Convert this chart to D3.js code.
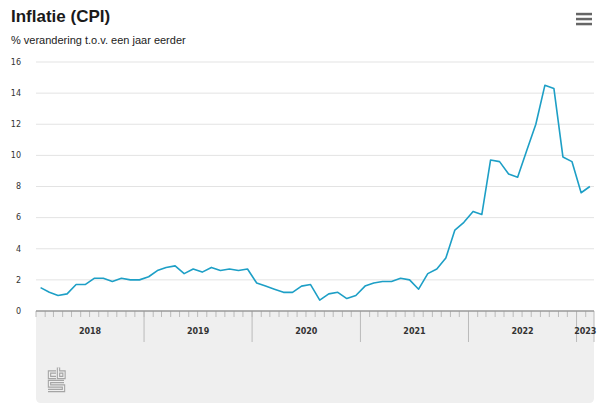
<!DOCTYPE html>
<html><head><meta charset="utf-8">
<script src="https://cdn.jsdelivr.net/npm/d3@7"></script>
<style>body{margin:0;background:#fff}svg{display:block}</style>
</head><body>
<div id="chart"></div>
<script>
const title = "Inflatie (CPI)";
const subtitle = "% verandering t.o.v. een jaar eerder";
const startMonth = "2018-01";
const cpi = [
  1.5, 1.2, 1.0, 1.1, 1.7, 1.7, 2.1, 2.1, 1.9, 2.1, 2.0, 2.0,
  2.2, 2.6, 2.8, 2.9, 2.4, 2.7, 2.5, 2.8, 2.6, 2.7, 2.6, 2.7,
  1.8, 1.6, 1.4, 1.2, 1.2, 1.6, 1.7, 0.7, 1.1, 1.2, 0.8, 1.0,
  1.6, 1.8, 1.9, 1.9, 2.1, 2.0, 1.4, 2.4, 2.7, 3.4, 5.2, 5.7,
  6.4, 6.2, 9.7, 9.6, 8.8, 8.6, 10.3, 12.0, 14.5, 14.3, 9.9, 9.6,
  7.6, 8.0
];
const yTicks = [0, 2, 4, 6, 8, 10, 12, 14, 16];
const yearLabels = ["2018", "2019", "2020", "2021", "2022", "2023"];

const W = 600, H = 418;
const svg = d3.select("#chart").append("svg").attr("width", W).attr("height", H);
const L = 36, R = 594, T = 62, B = 311;

const parse = d3.timeParse("%Y-%m");
const t0 = parse(startMonth);
const dates = cpi.map((v, i) => d3.timeMonth.offset(t0, i));
const tEnd = d3.timeMonth.offset(t0, cpi.length);
const x = d3.scaleTime().domain([t0, tEnd]).range([L, R]);
const y = d3.scaleLinear().domain([0, 16]).range([B, T]);
const mid = d => new Date((+d + +d3.timeMonth.offset(d, 1)) / 2);

// title
svg.append("text").attr("x", 11).attr("y", 22)
  .style("font-family", "'Liberation Sans', Arial, sans-serif").style("font-weight", "bold")
  .style("font-size", "17px").attr("fill", "#1a1a1a").text(title);
svg.append("text").attr("x", 11).attr("y", 44)
  .style("font-family", "'Liberation Sans', Arial, sans-serif")
  .style("font-size", "11px").attr("fill", "#222").text(subtitle);

// menu icon
const menu = svg.append("g").attr("fill", "#666");
[14, 19, 24].forEach(yy => menu.append("rect").attr("x", 576).attr("y", yy - 1.2).attr("width", 16).attr("height", 2.5));

// navigator / axis box
svg.append("path")
  .attr("d", `M${L},${B} H${R} V${403 - 5} Q${R},403 ${R - 5},403 H${L + 5} Q${L},403 ${L},${403 - 5} Z`)
  .attr("fill", "#efefef");

// grid
svg.append("g").selectAll("line").data(yTicks.filter(d => d > 0)).join("line")
  .attr("x1", L).attr("x2", R).attr("y1", d => y(d)).attr("y2", d => y(d))
  .attr("stroke", "#e3e3e3").attr("stroke-width", 1);

// y labels
svg.append("g").selectAll("text").data(yTicks).join("text")
  .attr("x", 21).attr("y", d => y(d)).attr("dy", "0.35em").attr("text-anchor", "end")
  .style("font-family", "'DejaVu Sans', Verdana, sans-serif").style("font-size", "8px")
  .attr("fill", "#333").text(d => d);

// monthly ticks
const months = d3.timeMonth.range(t0, tEnd);
svg.append("g").selectAll("line").data(months).join("line")
  .attr("x1", d => x(d)).attr("x2", d => x(d)).attr("y1", B).attr("y2", B + 6)
  .attr("stroke", "#bbb").attr("stroke-width", 1);
// year separators
const years = d3.timeYear.range(t0, tEnd);
svg.append("g").selectAll("line").data(years.slice(1).concat([tEnd])).join("line")
  .attr("x1", d => x(d)).attr("x2", d => x(d)).attr("y1", B).attr("y2", 342)
  .attr("stroke", "#bbb").attr("stroke-width", 1);
// year labels
svg.append("g").selectAll("text").data(years).join("text")
  .attr("x", (d, i) => (x(d) + x(d3.min([d3.timeYear.offset(d, 1), tEnd]))) / 2)
  .attr("y", 331).attr("dy", "0.35em").attr("text-anchor", "middle")
  .style("font-family", "'DejaVu Sans', Verdana, sans-serif").style("font-weight", "bold").style("font-size", "8px")
  .attr("fill", "#333").text((d, i) => yearLabels[i]);

// axis line
svg.append("line").attr("x1", L).attr("x2", R).attr("y1", B).attr("y2", B)
  .attr("stroke", "#999").attr("stroke-width", 1.5);

// line
svg.append("path").datum(cpi)
  .attr("d", d3.line().x((d, i) => x(mid(dates[i]))).y(d => y(d)))
  .attr("fill", "none").attr("stroke", "#1d9fc6").attr("stroke-width", 1.6)
  .attr("stroke-linejoin", "round");

// CBS logo (outlined letters)
const logoPaths = [
  "M56,372 H49.5 V377.5 H56",
  "M58.5,367.5 V377.5 H64 V372 H58.5",
  "M64,381.5 H49.5 V386 H63.5 V390.5 H48"
];
const logo = svg.append("g").attr("fill", "none").attr("stroke-linejoin", "miter");
logo.selectAll(".o").data(logoPaths).join("path").attr("d", d => d)
  .attr("stroke", "#a5a5a5").attr("stroke-width", 3.4);
logo.selectAll(".i").data(logoPaths).join("path").attr("d", d => d)
  .attr("stroke", "#efefef").attr("stroke-width", 1.2);
</script>
</body></html>
